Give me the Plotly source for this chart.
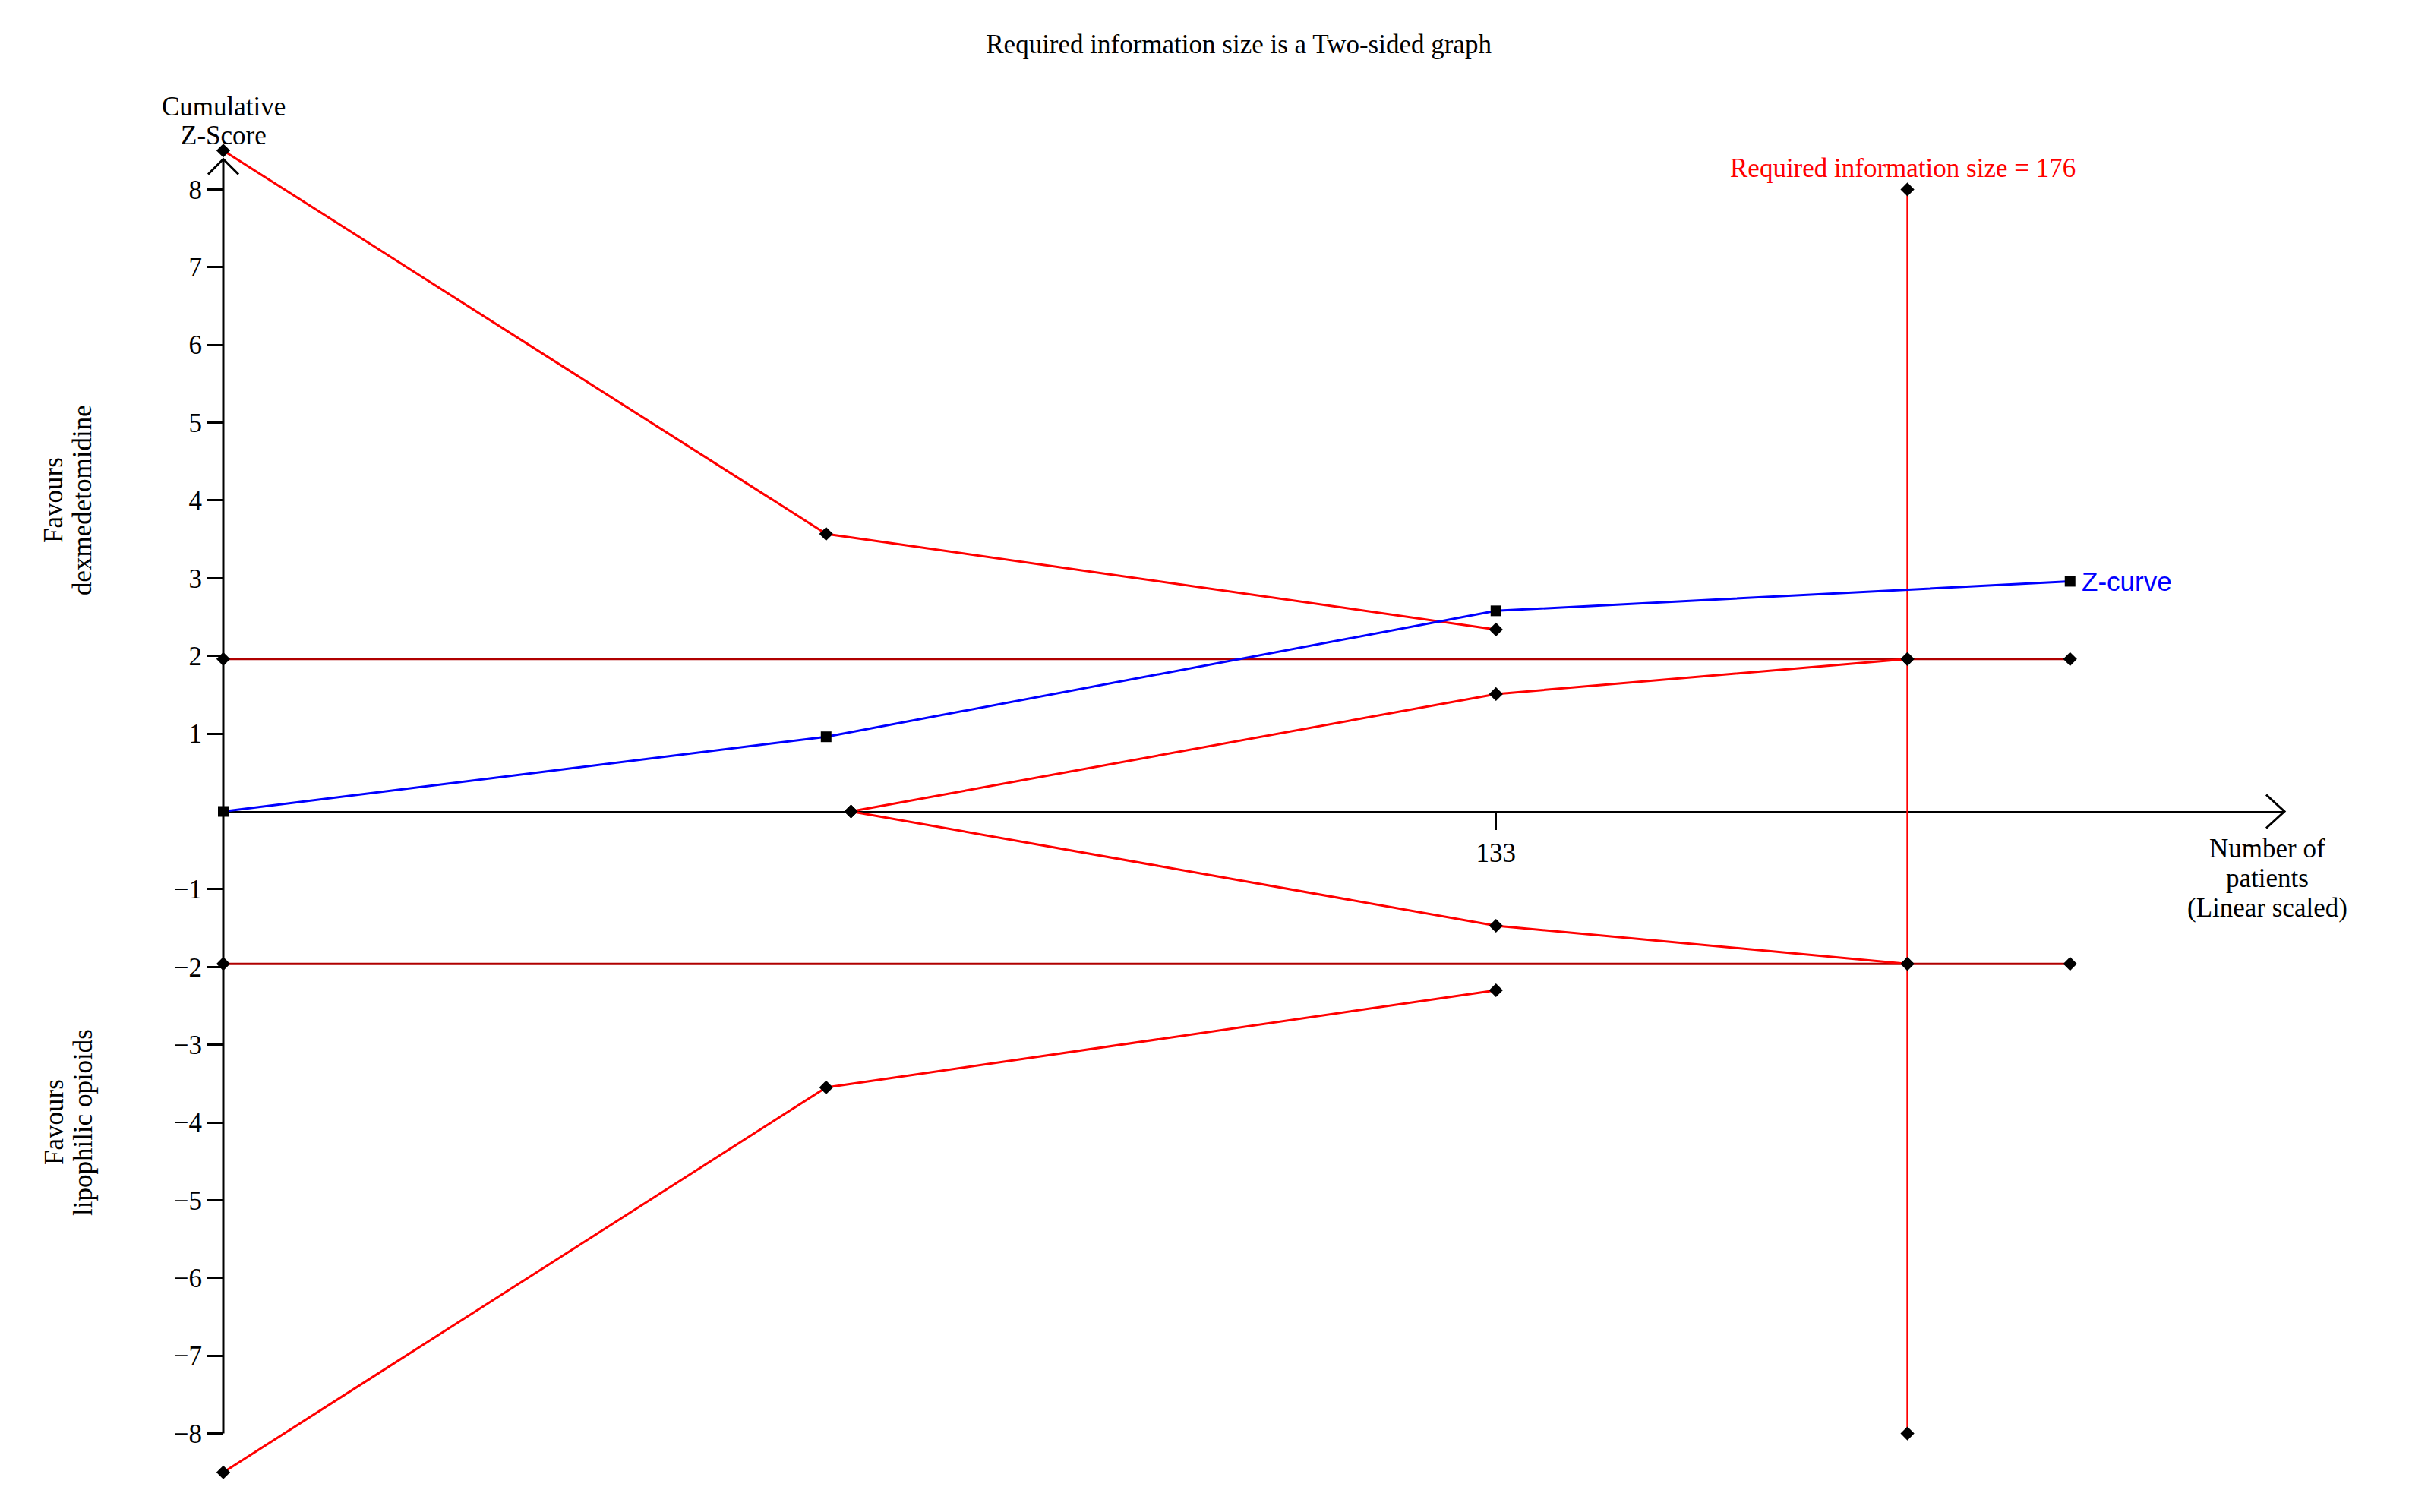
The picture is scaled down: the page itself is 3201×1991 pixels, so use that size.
import plotly.graph_objects as go

# Trial sequential analysis data (number of patients on x, cumulative Z on y)
ris = 176
z_x = [0, 63, 133, 193]
z_y = [0, 0.96, 2.58, 2.96]

conv_x = [0, 176, 193]
conv_upper = [1.96, 1.96, 1.96]
conv_lower = [-1.96, -1.96, -1.96]

bound_x = [0, 63, 133]
bound_upper = [8.5, 3.57, 2.34]
bound_lower = [-8.5, -3.55, -2.30]

futil_x = [65.6, 133, 176]
futil_upper = [0, 1.51, 1.96]
futil_lower = [0, -1.47, -1.96]

ris_x = [176, 176]
ris_y = [8, -8]

y_ticks = [-8, -7, -6, -5, -4, -3, -2, -1, 1, 2, 3, 4, 5, 6, 7, 8]
x_ticks = [133]

# axis extents
X_END = 215.4
Y_TOP = 8.39
Y_BOTTOM = -8
Y_RANGE = [-8.6, 8.6]

SERIF = 'Liberation Serif'
RED = '#ff0000'
DARK_RED = '#b00000'

marker_diamond = dict(symbol='diamond', size=14, color='black')


def add_line(fig, x, y, color, width, marker):
    fig.add_trace(go.Scatter(
        x=x, y=y, mode='lines+markers',
        line=dict(color=color, width=width),
        marker=marker, cliponaxis=False, showlegend=False, hoverinfo='skip'
    ))


def to_paper(v):
    # y value -> paper fraction (so axis shapes are not clipped)
    return (v - Y_RANGE[0]) / (Y_RANGE[1] - Y_RANGE[0])


fig = go.Figure()

# conventional boundaries
add_line(fig, conv_x, conv_upper, DARK_RED, 3, marker_diamond)
add_line(fig, conv_x, conv_lower, DARK_RED, 3, marker_diamond)

# required information size line
add_line(fig, ris_x, ris_y, RED, 2.5, marker_diamond)

# monitoring boundaries
add_line(fig, bound_x, bound_upper, RED, 3, marker_diamond)
add_line(fig, bound_x, bound_lower, RED, 3, marker_diamond)

# futility boundaries
add_line(fig, futil_x, futil_upper, RED, 3, marker_diamond)
add_line(fig, futil_x, futil_lower, RED, 3, marker_diamond)

# Z-curve
add_line(fig, z_x, z_y, '#0000ff', 3, dict(symbol='square', size=14, color='black'))

# y axis line with open arrow head
fig.add_shape(type='line', xref='paper', yref='paper', x0=0, x1=0,
              y0=to_paper(Y_BOTTOM), y1=to_paper(Y_TOP),
              line=dict(color='black', width=3), layer='below')
fig.add_shape(type='path', xref='paper', yref='paper', xsizemode='pixel', ysizemode='pixel',
              xanchor=0, yanchor=to_paper(Y_TOP), path='M -20 -20 L 0 0 L 20 -20',
              line=dict(color='black', width=3))
# x axis arrow head
fig.add_shape(type='path', xref='paper', yref='paper', xsizemode='pixel', ysizemode='pixel',
              xanchor=1, yanchor=to_paper(0), path='M -24 22 L 0 0 L -24 -22',
              line=dict(color='black', width=3))

# text labels
labels = [
    # text, x, y, xshift, yshift, angle, color
    ('Cumulative', 0, Y_TOP, 0, 69, 0, 'black'),
    ('Z-Score', 0, Y_TOP, 0, 31, 0, 'black'),
    ('Favours', 0, 4, -223, 0, -90, 'black'),
    ('dexmedetomidine', 0, 4, -185, 0, -90, 'black'),
    ('Favours', 0, -4, -223, 0, -90, 'black'),
    ('lipophilic opioids', 0, -4, -185, 0, -90, 'black'),
    ('Number of', X_END, 0, -23, -49, 0, 'black'),
    ('patients', X_END, 0, -23, -88, 0, 'black'),
    ('(Linear scaled)', X_END, 0, -23, -127, 0, 'black'),
    ('Required information size = ' + str(ris), ris, 8, -6, 28, 0, 'red'),
]
for text, x, y, xs, ys, ang, col in labels:
    fig.add_annotation(text=text, x=x, y=y, xref='x', yref='y', showarrow=False,
                       xshift=xs, yshift=ys, textangle=ang,
                       xanchor='center', yanchor='middle',
                       font=dict(family=SERIF, size=35, color=col))

fig.add_annotation(text='Z-curve', x=z_x[-1], y=z_y[-1], xref='x', yref='y',
                   showarrow=False, xanchor='left', yanchor='middle', xshift=13,
                   font=dict(family='Liberation Sans', size=35, color='#0000ff'))

# page body has an 8px margin, so the figure is a little smaller than the window
fig.update_layout(
    width=3185, height=1975,
    margin=dict(l=286, r=185, t=180, b=34),
    paper_bgcolor='white', plot_bgcolor='white',
    showlegend=False,
    title=dict(text='Required information size is a Two-sided graph',
               x=0.5096, xref='container', xanchor='center',
               y=0.9747, yref='container', yanchor='middle',
               font=dict(family=SERIF, size=35, color='black')),
    xaxis=dict(range=[0, X_END], anchor='free', position=to_paper(0),
               showgrid=False, zeroline=False, showline=True,
               linecolor='black', linewidth=3, layer='below traces',
               ticks='outside', tickvals=x_ticks, ticklen=22, tickwidth=2,
               tickcolor='black',
               tickfont=dict(family=SERIF, size=35, color='black')),
    yaxis=dict(range=Y_RANGE, showgrid=False, zeroline=False, showline=False,
               ticks='outside', tickvals=y_ticks, ticklen=20, tickwidth=3,
               tickcolor='black',
               tickfont=dict(family=SERIF, size=35, color='black')),
)

fig.write_html("out.html")
